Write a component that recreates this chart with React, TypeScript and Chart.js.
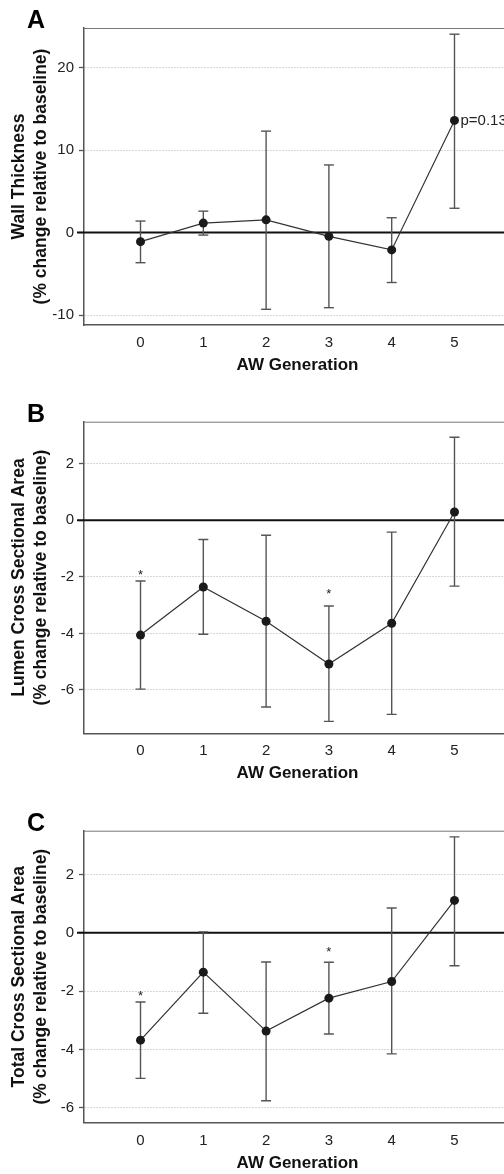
import React, { useEffect, useRef } from "react";
import { Chart, registerables } from "chart.js";

Chart.register(...registerables);

// ---------- data ----------
const generations = [0, 1, 2, 3, 4, 5];

const wallMean = [-1.1, 1.15, 1.55, -0.45, -2.1, 13.6];
const wallUpper = [1.4, 2.6, 12.3, 8.2, 1.8, 24.05];
const wallLower = [-3.65, -0.3, -9.3, -9.1, -6.05, 2.95];

const lumenMean = [-4.06, -2.36, -3.57, -5.08, -3.64, 0.29];
const lumenUpper = [-2.15, -0.68, -0.53, -3.03, -0.42, 2.93];
const lumenLower = [-5.97, -4.03, -6.6, -7.11, -6.86, -2.33];

const totalMean = [-3.68, -1.35, -3.37, -2.24, -1.67, 1.11];
const totalUpper = [-2.37, 0.03, -1.0, -1.01, 0.85, 3.29];
const totalLower = [-4.99, -2.76, -5.76, -3.47, -4.15, -1.13];

const lumenStars = [
  { x: 0, y: -1.86 },
  { x: 3, y: -2.53 },
];
const totalStars = [
  { x: 0, y: -2.08 },
  { x: 3, y: -0.58 },
];
const wallNote = { x: 5, y: 13.6, text: "p=0.13" };

const xTitle = "AW Generation";
const yUnitLine = "(% change relative to baseline)";

const FONT = "'Liberation Sans', Arial, Helvetica, sans-serif";
const CANVAS_W = 522;

type Panel = {
  letter: string;
  yTitle: string[];
  mean: number[];
  upper: number[];
  lower: number[];
  yMin: number;
  yMax: number;
  yStep: number;
  canvasTop: number;
  canvasH: number;
  chartTop: number;
  chartBottom: number;
  titleCenter: number;
  stars: { x: number; y: number }[];
  note: { x: number; y: number; text: string } | null;
};

const panels: Panel[] = [
  {
    letter: "A",
    yTitle: ["Wall Thickness", yUnitLine],
    mean: wallMean,
    upper: wallUpper,
    lower: wallLower,
    yMin: -11.2,
    yMax: 24.8,
    yStep: 10,
    canvasTop: 0,
    canvasH: 385,
    chartTop: 28,
    chartBottom: 325,
    titleCenter: 365,
    stars: [],
    note: wallNote,
  },
  {
    letter: "B",
    yTitle: ["Lumen Cross Sectional Area", yUnitLine],
    mean: lumenMean,
    upper: lumenUpper,
    lower: lumenLower,
    yMin: -7.53,
    yMax: 3.48,
    yStep: 2,
    canvasTop: 385,
    canvasH: 400,
    chartTop: 421.7,
    chartBottom: 733.3,
    titleCenter: 773.3,
    stars: lumenStars,
    note: null,
  },
  {
    letter: "C",
    yTitle: ["Total Cross Sectional Area", yUnitLine],
    mean: totalMean,
    upper: totalUpper,
    lower: totalLower,
    yMin: -6.51,
    yMax: 3.5,
    yStep: 2,
    canvasTop: 785,
    canvasH: 389,
    chartTop: 830.7,
    chartBottom: 1122.7,
    titleCenter: 1163,
    stars: totalStars,
    note: null,
  },
];

const extrasPlugin = {
  id: "panelExtras",
  beforeDatasetsDraw(chart: any) {
    const { ctx, chartArea, scales } = chart;
    const y0 = scales.y.getPixelForValue(0);
    ctx.save();
    ctx.strokeStyle = "#111";
    ctx.lineWidth = 2;
    ctx.beginPath();
    ctx.moveTo(chartArea.left - 7, y0);
    ctx.lineTo(chartArea.right, y0);
    ctx.stroke();
    ctx.restore();
  },
  afterDraw(chart: any, _args: any, opts: any) {
    const { ctx, chartArea, scales } = chart;
    ctx.save();
    // top and right frame
    ctx.strokeStyle = "#777";
    ctx.lineWidth = 1;
    ctx.beginPath();
    ctx.moveTo(chartArea.left, chartArea.top + 0.5);
    ctx.lineTo(chartArea.right, chartArea.top + 0.5);
    ctx.lineTo(chartArea.right, chartArea.bottom);
    ctx.stroke();
    // panel letter
    ctx.fillStyle = "#000";
    ctx.font = `bold 25px ${FONT}`;
    ctx.textAlign = "left";
    ctx.textBaseline = "alphabetic";
    ctx.fillText(opts.letter, 27, chartArea.top);
    // significance stars
    ctx.font = `13px ${FONT}`;
    ctx.textAlign = "center";
    ctx.textBaseline = "middle";
    ctx.fillStyle = "#222";
    (opts.stars || []).forEach((s: any) => {
      ctx.fillText("*", scales.x.getPixelForValue(s.x), scales.y.getPixelForValue(s.y) + 3);
    });
    if (opts.note) {
      ctx.font = `15px ${FONT}`;
      ctx.textAlign = "left";
      ctx.fillText(
        opts.note.text,
        scales.x.getPixelForValue(opts.note.x) + 6,
        scales.y.getPixelForValue(opts.note.y)
      );
    }
    ctx.restore();
  },
};

function PanelChart({ p }: { p: Panel }) {
  const ref = useRef<HTMLCanvasElement | null>(null);
  useEffect(() => {
    if (!ref.current) return;
    const padTop = p.chartTop - p.canvasTop;
    const xHeight = p.canvasTop + p.canvasH - p.chartBottom;
    const titleLH = 17 * 1.2;
    const titlePadBottom = p.canvasTop + p.canvasH - p.titleCenter - titleLH / 2;

    const errorSets = generations.map((g, i) => ({
      type: "line" as const,
      data: [
        { x: g, y: p.lower[i] },
        { x: g, y: p.upper[i] },
      ],
      borderColor: "#555",
      borderWidth: 1.4,
      pointStyle: "line" as const,
      pointRadius: 5,
      pointBorderWidth: 1.4,
      pointBorderColor: "#555",
      pointBackgroundColor: "#555",
      fill: false,
      order: 2,
    }));

    const chart = new Chart(ref.current, {
      type: "line",
      data: {
        datasets: [
          {
            data: generations.map((g, i) => ({ x: g, y: p.mean[i] })),
            borderColor: "#333",
            borderWidth: 1.2,
            pointRadius: 4.5,
            pointBackgroundColor: "#1a1a1a",
            pointBorderColor: "#1a1a1a",
            pointBorderWidth: 0,
            fill: false,
            tension: 0,
            order: 0,
          },
          ...errorSets,
        ],
      },
      options: {
        animation: false,
        responsive: false,
        events: [],
        layout: { padding: { top: padTop, left: 0, right: CANVAS_W - 511, bottom: 0 } },
        plugins: {
          legend: { display: false },
          tooltip: { enabled: false },
          panelExtras: { letter: p.letter, stars: p.stars, note: p.note },
        } as any,
        scales: {
          x: {
            type: "linear",
            min: -0.9,
            max: 5.9,
            afterFit: (s: any) => {
              s.height = xHeight;
            },
            grid: { display: false, drawTicks: false },
            border: { display: true, color: "#555", width: 1.5 },
            ticks: {
              stepSize: 1,
              includeBounds: false,
              padding: 9,
              color: "#222",
              font: { family: FONT, size: 15 },
            },
            title: {
              display: true,
              text: xTitle,
              color: "#111",
              font: { family: FONT, size: 17, weight: "bold", lineHeight: 1.2 },
              padding: { top: 0, bottom: titlePadBottom },
            },
          },
          y: {
            type: "linear",
            min: p.yMin,
            max: p.yMax,
            afterFit: (s: any) => {
              s.width = 84;
            },
            grid: {
              display: true,
              color: "#b0b0b0",
              lineWidth: 1,
              drawTicks: true,
              tickLength: 5,
              tickColor: "#555",
              tickWidth: 1.3,
              tickBorderDash: [],
            },
            border: { display: true, color: "#555", width: 1.5, dash: [1, 2] },
            ticks: {
              stepSize: p.yStep,
              includeBounds: false,
              padding: 5,
              color: "#222",
              font: { family: FONT, size: 15 },
            },
            title: {
              display: true,
              text: p.yTitle,
              color: "#111",
              font: { family: FONT, size: 17.5, weight: "bold", lineHeight: 1.26 },
              padding: { top: 8, bottom: 0 },
            },
          },
        },
      },
      plugins: [extrasPlugin],
    } as any);
    return () => chart.destroy();
  }, [p]);

  return (
    <canvas
      ref={ref}
      width={CANVAS_W}
      height={p.canvasH}
      style={{
        position: "absolute",
        left: 0,
        top: p.canvasTop,
        width: CANVAS_W,
        height: p.canvasH,
        display: "block",
      }}
    />
  );
}

export default function App() {
  return (
    <div
      style={{
        position: "absolute",
        left: 0,
        top: 0,
        width: 504,
        height: 1174,
        overflow: "hidden",
        background: "#fff",
      }}
    >
      {panels.map((p) => (
        <PanelChart key={p.letter} p={p} />
      ))}
    </div>
  );
}
